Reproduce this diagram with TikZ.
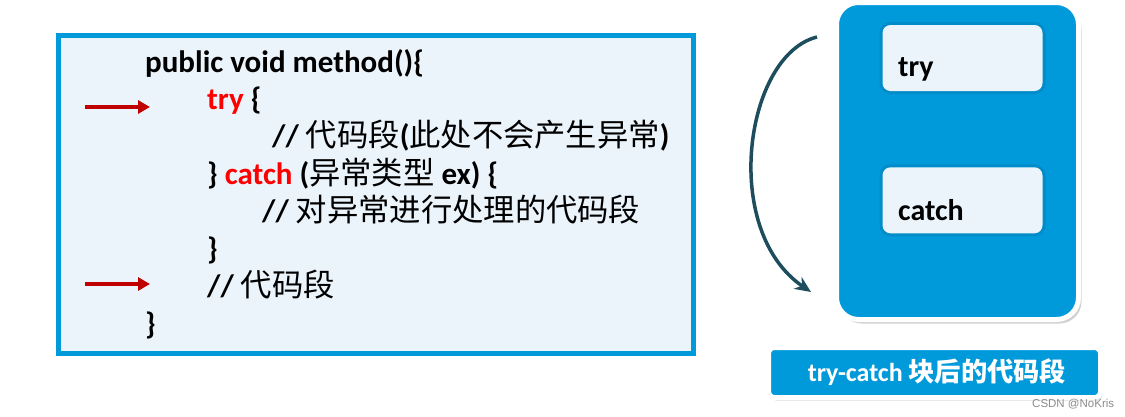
\documentclass[tikz,border=0pt]{standalone}
\usepackage{fontspec}
\setmainfont{Carlito}
\newfontfamily\cjk{Noto Sans CJK SC}[Scale=1.01]
\newfontfamily\wmfont{Liberation Sans}
\usetikzlibrary{arrows.meta,shadows}
\definecolor{paneblue}{RGB}{0,153,217}
\definecolor{panefill}{RGB}{235,243,251}
\definecolor{boxblue}{RGB}{0,154,219}
\definecolor{halo}{RGB}{0,140,200}
\definecolor{kwred}{RGB}{255,0,0}
\definecolor{arrred}{RGB}{192,0,0}
\definecolor{teal}{RGB}{30,78,94}
\newcommand\zh[1]{{\cjk\mdseries #1}}
\tikzset{
  codeline/.style={anchor=base west, inner sep=0pt, font=\fontsize{31}{37}\selectfont\bfseries},
  codepane/.style={draw=paneblue, line width=5pt, fill=panefill, inner sep=0pt},
  bigbox/.style={draw=white, line width=5pt, fill=boxblue, rounded corners=22pt, inner sep=0pt,
    drop shadow={shadow xshift=3pt, shadow yshift=-4pt, opacity=0.18, fill=black}},
  innerbox/.style={fill=panefill, rounded corners=8pt, inner sep=0pt,
    preaction={draw=halo, line width=6pt, rounded corners=8pt}},
  labelbox/.style={draw=white, line width=5pt, fill=boxblue, rounded corners=6pt, inner sep=0pt,
    drop shadow={shadow xshift=2pt, shadow yshift=-3pt, opacity=0.15, fill=black}},
  boxtext/.style={anchor=base west, inner sep=0pt, font=\fontsize{30}{36}\selectfont\bfseries},
  redarrow/.style={draw=arrred, line width=4pt, -{Triangle[length=12pt,width=13pt]}},
  flowarrow/.style={draw=teal, line width=3.5pt, -{Stealth[length=16pt,width=14pt,inset=5pt]}}
}
\begin{document}
\begin{tikzpicture}[x=1pt,y=-1pt]
\fill[white] (0,0) rectangle (1125,416);
\useasboundingbox (0,0) rectangle (1125,416);

% left code pane
\node[codepane, minimum width=634.5pt, minimum height=317.5pt] (pane) at (375.75,194.25) {};
\node[codeline] (l1) at (145,72) {public void method()\{};
\node[codeline] (l2) at (207,109.4) {{\color{kwred}try} \{};
\node[codeline] (l3) at (272,146.9) {// \zh{代码段}(\zh{此处不会产生异常})};
\node[codeline] (l4) at (207,184.3) {\} {\color{kwred}catch} (\zh{异常类型} ex) \{};
\node[codeline] (l5) at (262,221.7) {// \zh{对异常进行处理的代码段}};
\node[codeline] (l6) at (207,259.1) {\}};
\node[codeline] (l7) at (207,296.6) {// \zh{代码段}};
\node[codeline] (l8) at (145,334) {\}};

% red arrows
\coordinate (a1s) at (85,107);
\coordinate (a1e) at (150,107);
\coordinate (a2s) at (85,284);
\coordinate (a2e) at (150,284);
\draw[redarrow] (a1s) -- (a1e);
\draw[redarrow] (a2s) -- (a2e);

% right block
\node[bigbox, minimum width=242pt, minimum height=317pt] (block) at (957.5,161) {};
\node[innerbox, minimum width=160pt, minimum height=66pt] (trybox) at (962.5,58) {};
\node[innerbox, minimum width=160pt, minimum height=66pt] (catchbox) at (962.5,200.3) {};
\node[boxtext] (trytxt) at (898,76.7) {try};
\node[boxtext] (catchtxt) at (898,220) {catch};

% curved arrow
\coordinate (cs) at (817,37);
\coordinate (ce) at (811,292);
\draw[flowarrow] (cs) .. controls (745,55) and (720,230) .. (ce);

% bottom label
\node[labelbox, minimum width=332pt, minimum height=50pt] (after) at (934.5,372.5) {};
\node[anchor=base, inner sep=0pt, text=white, font=\fontsize{26}{30}\selectfont\bfseries] (aftertxt) at (937,381) {try-catch {\cjk\bfseries 块后的代码段}};

% watermark
\node[anchor=base west, inner sep=0pt, text=black!45, font=\wmfont\fontsize{11.5}{13}\selectfont] (wm) at (1032,407) {CSDN @NoKris};
\end{tikzpicture}
\end{document}
